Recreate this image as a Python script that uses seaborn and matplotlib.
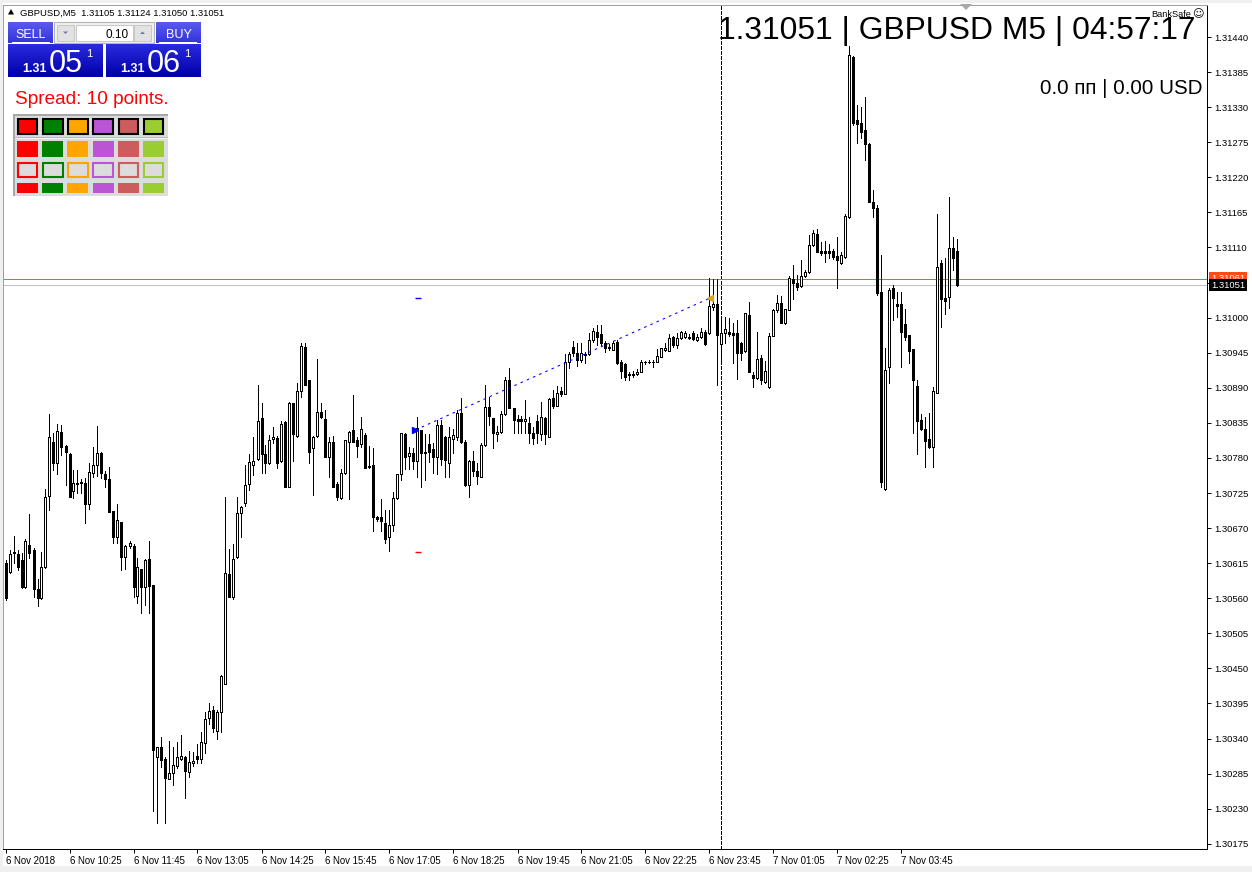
import numpy as np
import matplotlib
matplotlib.use("Agg")
import matplotlib.pyplot as plt
import matplotlib.transforms as mtransforms
from matplotlib.patches import Rectangle, Polygon
from matplotlib.colors import LinearSegmentedColormap
import seaborn as sns

# ---------------- data (GBPUSD M5) ----------------
open_ = [1.30615, 1.30601, 1.30631, 1.30629, 1.30620, 1.30578, 1.30643, 1.30636, 1.30574, 1.30560,
 1.30609, 1.30720, 1.30805, 1.30772, 1.30821, 1.30799, 1.30786, 1.30728, 1.30739, 1.30741,
 1.30741, 1.30708, 1.30756, 1.30769, 1.30787, 1.30755, 1.30747, 1.30697, 1.30656, 1.30680,
 1.30625, 1.30642, 1.30642, 1.30563, 1.30606, 1.30578, 1.30621, 1.30581, 1.30311, 1.30327,
 1.30308, 1.30277, 1.30286, 1.30297, 1.30308, 1.30311, 1.30288, 1.30302, 1.30313, 1.30308,
 1.30333, 1.30372, 1.30385, 1.30352, 1.30382, 1.30426, 1.30598, 1.30562, 1.30625, 1.30694,
 1.30709, 1.30739, 1.30769, 1.30778, 1.30843, 1.30786, 1.30772, 1.30810, 1.30811, 1.30775,
 1.30836, 1.30734, 1.30866, 1.30814, 1.30885, 1.30954, 1.30902, 1.30796, 1.30814, 1.30852,
 1.30841, 1.30781, 1.30805, 1.30739, 1.30717, 1.30756, 1.30805, 1.30824, 1.30808, 1.30802,
 1.30816, 1.30767, 1.30769, 1.30687, 1.30687, 1.30678, 1.30656, 1.30675, 1.30717, 1.30755,
 1.30818, 1.30783, 1.30787, 1.30775, 1.30824, 1.30789, 1.30802, 1.30794, 1.30781, 1.30832,
 1.30813, 1.30772, 1.30810, 1.30813, 1.30850, 1.30805, 1.30738, 1.30775, 1.30760, 1.30750,
 1.30800, 1.30860, 1.30843, 1.30818, 1.30821, 1.30849, 1.30902, 1.30858, 1.30841, 1.30841,
 1.30838, 1.30835, 1.30819, 1.30838, 1.30818, 1.30843, 1.30813, 1.30874, 1.30861, 1.30885,
 1.30880, 1.30930, 1.30954, 1.30945, 1.30934, 1.30943, 1.30943, 1.30965, 1.30977, 1.30974,
 1.30960, 1.30954, 1.30949, 1.30962, 1.30930, 1.30927, 1.30910, 1.30910, 1.30912, 1.30915,
 1.30930, 1.30930, 1.30930, 1.30930, 1.30938, 1.30949, 1.30948, 1.30970, 1.30957, 1.30968,
 1.30970, 1.30970, 1.30976, 1.30965, 1.30970, 1.30977, 1.30976, 1.31017, 1.31021, 1.30959,
 1.30976, 1.30977, 1.30976, 1.30976, 1.30960, 1.30948, 1.31004, 1.30910, 1.30905, 1.30937,
 1.30899, 1.30891, 1.30971, 1.31012, 1.31023, 1.30992, 1.31012, 1.31061, 1.31054, 1.31050,
 1.31065, 1.31072, 1.31114, 1.31131, 1.31104, 1.31104, 1.31104, 1.31104, 1.31097, 1.31086,
 1.31095, 1.31158, 1.31409, 1.31310, 1.31305, 1.31294, 1.31272, 1.31181, 1.31172, 1.31040,
 1.30731, 1.30922, 1.31046, 1.31021, 1.31021, 1.30990, 1.30973, 1.30951, 1.30893, 1.30839,
 1.30825, 1.30810, 1.30797, 1.30882, 1.31086, 1.31031, 1.31032, 1.31109, 1.31105]

high_ = [1.30620, 1.30636, 1.30658, 1.30636, 1.30631, 1.30653, 1.30692, 1.30639, 1.30590, 1.30632,
 1.30731, 1.30849, 1.30819, 1.30833, 1.30831, 1.30800, 1.30787, 1.30761, 1.30761, 1.30747,
 1.30749, 1.30772, 1.30797, 1.30830, 1.30789, 1.30760, 1.30766, 1.30697, 1.30708, 1.30680,
 1.30643, 1.30650, 1.30645, 1.30623, 1.30606, 1.30621, 1.30650, 1.30581, 1.30327, 1.30342,
 1.30311, 1.30336, 1.30327, 1.30335, 1.30346, 1.30313, 1.30320, 1.30319, 1.30331, 1.30350,
 1.30382, 1.30396, 1.30391, 1.30385, 1.30440, 1.30719, 1.30637, 1.30645, 1.30719, 1.30705,
 1.30769, 1.30786, 1.30813, 1.30894, 1.30866, 1.30800, 1.30816, 1.30829, 1.30814, 1.30838,
 1.30838, 1.30868, 1.30866, 1.30898, 1.30960, 1.30960, 1.30902, 1.30814, 1.30935, 1.30866,
 1.30855, 1.30813, 1.30814, 1.30742, 1.30763, 1.30808, 1.30822, 1.30879, 1.30813, 1.30844,
 1.30819, 1.30799, 1.30796, 1.30689, 1.30716, 1.30698, 1.30698, 1.30727, 1.30755, 1.30819,
 1.30819, 1.30797, 1.30796, 1.30844, 1.30824, 1.30818, 1.30818, 1.30803, 1.30839, 1.30839,
 1.30814, 1.30829, 1.30825, 1.30855, 1.30874, 1.30808, 1.30777, 1.30791, 1.30772, 1.30803,
 1.30894, 1.30876, 1.30843, 1.30830, 1.30854, 1.30907, 1.30921, 1.30858, 1.30847, 1.30846,
 1.30871, 1.30844, 1.30829, 1.30847, 1.30868, 1.30844, 1.30874, 1.30887, 1.30893, 1.30891,
 1.30943, 1.30946, 1.30963, 1.30960, 1.30960, 1.30946, 1.30976, 1.30984, 1.30988, 1.30988,
 1.30963, 1.30959, 1.30963, 1.30965, 1.30934, 1.30929, 1.30915, 1.30916, 1.30919, 1.30934,
 1.30932, 1.30934, 1.30934, 1.30951, 1.30952, 1.30960, 1.30974, 1.30971, 1.30976, 1.30979,
 1.30979, 1.30974, 1.30979, 1.30974, 1.30984, 1.30981, 1.31062, 1.31061, 1.31061, 1.30999,
 1.31001, 1.30999, 1.30992, 1.30996, 1.30962, 1.31007, 1.31024, 1.30914, 1.30977, 1.30941,
 1.30932, 1.30976, 1.31013, 1.31035, 1.31034, 1.31013, 1.31065, 1.31083, 1.31067, 1.31090,
 1.31075, 1.31130, 1.31137, 1.31139, 1.31119, 1.31120, 1.31115, 1.31108, 1.31126, 1.31103,
 1.31162, 1.31426, 1.31410, 1.31333, 1.31330, 1.31346, 1.31274, 1.31200, 1.31177, 1.31098,
 1.30952, 1.31046, 1.31051, 1.31040, 1.31040, 1.31013, 1.30973, 1.30951, 1.30902, 1.30849,
 1.30844, 1.30850, 1.30891, 1.31162, 1.31090, 1.31094, 1.31189, 1.31126, 1.31124]

low_ = [1.30557, 1.30600, 1.30615, 1.30604, 1.30576, 1.30576, 1.30623, 1.30562, 1.30548, 1.30559,
 1.30607, 1.30698, 1.30761, 1.30755, 1.30785, 1.30738, 1.30719, 1.30717, 1.30725, 1.30725,
 1.30678, 1.30700, 1.30750, 1.30752, 1.30749, 1.30734, 1.30695, 1.30647, 1.30647, 1.30604,
 1.30606, 1.30639, 1.30562, 1.30553, 1.30537, 1.30549, 1.30537, 1.30226, 1.30208, 1.30295,
 1.30208, 1.30277, 1.30267, 1.30294, 1.30306, 1.30247, 1.30280, 1.30297, 1.30302, 1.30302,
 1.30317, 1.30363, 1.30350, 1.30339, 1.30350, 1.30426, 1.30562, 1.30559, 1.30623, 1.30656,
 1.30705, 1.30730, 1.30753, 1.30777, 1.30756, 1.30756, 1.30770, 1.30803, 1.30764, 1.30774,
 1.30734, 1.30734, 1.30775, 1.30813, 1.30876, 1.30894, 1.30772, 1.30722, 1.30813, 1.30843,
 1.30781, 1.30750, 1.30734, 1.30714, 1.30716, 1.30755, 1.30716, 1.30805, 1.30781, 1.30797,
 1.30764, 1.30764, 1.30665, 1.30681, 1.30665, 1.30647, 1.30634, 1.30665, 1.30716, 1.30745,
 1.30763, 1.30763, 1.30763, 1.30750, 1.30734, 1.30745, 1.30774, 1.30756, 1.30755, 1.30769,
 1.30750, 1.30750, 1.30787, 1.30808, 1.30803, 1.30736, 1.30719, 1.30752, 1.30739, 1.30750,
 1.30799, 1.30831, 1.30796, 1.30807, 1.30819, 1.30847, 1.30858, 1.30819, 1.30819, 1.30819,
 1.30819, 1.30803, 1.30802, 1.30803, 1.30808, 1.30802, 1.30813, 1.30858, 1.30861, 1.30877,
 1.30880, 1.30921, 1.30940, 1.30924, 1.30930, 1.30929, 1.30941, 1.30962, 1.30957, 1.30957,
 1.30946, 1.30949, 1.30949, 1.30927, 1.30905, 1.30902, 1.30902, 1.30907, 1.30910, 1.30915,
 1.30927, 1.30929, 1.30922, 1.30930, 1.30938, 1.30948, 1.30948, 1.30954, 1.30952, 1.30966,
 1.30968, 1.30966, 1.30965, 1.30963, 1.30968, 1.30957, 1.30974, 1.31012, 1.30894, 1.30934,
 1.30960, 1.30971, 1.30929, 1.30904, 1.30934, 1.30946, 1.30914, 1.30891, 1.30904, 1.30896,
 1.30898, 1.30890, 1.30971, 1.31009, 1.30992, 1.30990, 1.31012, 1.31029, 1.31043, 1.31048,
 1.31064, 1.31070, 1.31112, 1.31103, 1.31098, 1.31087, 1.31094, 1.31092, 1.31046, 1.31084,
 1.31094, 1.31156, 1.31302, 1.31274, 1.31282, 1.31247, 1.31181, 1.31158, 1.31035, 1.30734,
 1.30730, 1.30898, 1.30996, 1.31001, 1.30922, 1.30965, 1.30929, 1.30819, 1.30786, 1.30824,
 1.30766, 1.30796, 1.30766, 1.30882, 1.30985, 1.31006, 1.31015, 1.31075, 1.31050]

close_ = [1.30560, 1.30629, 1.30632, 1.30609, 1.30578, 1.30650, 1.30631, 1.30574, 1.30560, 1.30609,
 1.30719, 1.30813, 1.30772, 1.30822, 1.30797, 1.30789, 1.30719, 1.30741, 1.30741, 1.30742,
 1.30708, 1.30758, 1.30769, 1.30787, 1.30756, 1.30747, 1.30695, 1.30656, 1.30683, 1.30625,
 1.30642, 1.30647, 1.30578, 1.30609, 1.30578, 1.30620, 1.30579, 1.30322, 1.30327, 1.30306,
 1.30278, 1.30286, 1.30299, 1.30311, 1.30313, 1.30289, 1.30303, 1.30305, 1.30308, 1.30335,
 1.30371, 1.30383, 1.30357, 1.30382, 1.30438, 1.30600, 1.30562, 1.30622, 1.30694, 1.30703,
 1.30738, 1.30774, 1.30775, 1.30838, 1.30786, 1.30772, 1.30808, 1.30813, 1.30772, 1.30833,
 1.30734, 1.30866, 1.30818, 1.30885, 1.30956, 1.30894, 1.30789, 1.30813, 1.30852, 1.30844,
 1.30781, 1.30805, 1.30734, 1.30719, 1.30756, 1.30808, 1.30821, 1.30805, 1.30799, 1.30825,
 1.30764, 1.30766, 1.30687, 1.30684, 1.30681, 1.30653, 1.30675, 1.30717, 1.30755, 1.30819,
 1.30781, 1.30787, 1.30775, 1.30827, 1.30787, 1.30787, 1.30789, 1.30781, 1.30832, 1.30778,
 1.30777, 1.30813, 1.30816, 1.30850, 1.30805, 1.30738, 1.30775, 1.30760, 1.30752, 1.30800,
 1.30860, 1.30846, 1.30819, 1.30821, 1.30849, 1.30902, 1.30858, 1.30839, 1.30838, 1.30838,
 1.30841, 1.30819, 1.30811, 1.30819, 1.30844, 1.30818, 1.30872, 1.30861, 1.30882, 1.30880,
 1.30930, 1.30943, 1.30945, 1.30934, 1.30945, 1.30941, 1.30965, 1.30979, 1.30970, 1.30960,
 1.30952, 1.30952, 1.30960, 1.30929, 1.30916, 1.30907, 1.30911, 1.30911, 1.30915, 1.30930,
 1.30931, 1.30931, 1.30931, 1.30940, 1.30952, 1.30952, 1.30968, 1.30957, 1.30968, 1.30977,
 1.30976, 1.30968, 1.30966, 1.30970, 1.30977, 1.30959, 1.31018, 1.31021, 1.30973, 1.30976,
 1.30982, 1.30974, 1.30973, 1.30945, 1.30945, 1.31007, 1.30914, 1.30905, 1.30935, 1.30902,
 1.30916, 1.30971, 1.31012, 1.31023, 1.30992, 1.31013, 1.31062, 1.31054, 1.31048, 1.31065,
 1.31072, 1.31114, 1.31133, 1.31103, 1.31101, 1.31101, 1.31101, 1.31095, 1.31090, 1.31098,
 1.31159, 1.31412, 1.31305, 1.31304, 1.31291, 1.31272, 1.31181, 1.31172, 1.31039, 1.30742,
 1.30918, 1.31043, 1.31031, 1.31018, 1.30977, 1.30970, 1.30948, 1.30902, 1.30838, 1.30825,
 1.30807, 1.30797, 1.30885, 1.31079, 1.31029, 1.31026, 1.31109, 1.31094, 1.31051]

x_tick_bars = [0, 16, 32, 48, 64, 80, 96, 112, 128, 144, 160, 176, 192, 208, 224]
x_tick_labels = ["6 Nov 2018", "6 Nov 10:25", "6 Nov 11:45", "6 Nov 13:05", "6 Nov 14:25",
                 "6 Nov 15:45", "6 Nov 17:05", "6 Nov 18:25", "6 Nov 19:45", "6 Nov 21:05",
                 "6 Nov 22:25", "6 Nov 23:45", "7 Nov 01:05", "7 Nov 02:25", "7 Nov 03:45"]
y_ticks = [1.30175, 1.30230, 1.30285, 1.30340, 1.30395, 1.30450, 1.30505, 1.30560,
           1.30615, 1.30670, 1.30725, 1.30780, 1.30835, 1.30890, 1.30945, 1.31000,
           1.31055, 1.31110, 1.31165, 1.31220, 1.31275, 1.31330, 1.31385, 1.31440]

bid_price = 1.31051
ask_price = 1.31061
trade_bars = [102.5, 176.25]
trade_prices = [1.30824, 1.31031]
tp_price = 1.31031
sl_price = 1.30633
day_separator_bar = 179

# ---------------- figure ----------------
sns.set_style("white")
plt.rcParams['font.family'] = ['Liberation Sans', 'DejaVu Sans']
plt.rcParams['axes.linewidth'] = 0.72

W, H = 1252, 872
fig = plt.figure(figsize=(W / 100, H / 100), dpi=100)
fig.patch.set_facecolor('white')


def fx(x):
    return x / W


def fy(y):
    return 1 - y / H


def frect(x0, y0, x1, y1, zorder=5, **kw):
    r = Rectangle((fx(x0), fy(y1)), (x1 - x0) / W, (y1 - y0) / H,
                  transform=fig.transFigure, zorder=zorder, **kw)
    fig.add_artist(r)
    return r


def fpoly(pts, zorder=6, **kw):
    p = Polygon([(fx(a), fy(b)) for a, b in pts], closed=True,
                transform=fig.transFigure, zorder=zorder, **kw)
    fig.add_artist(p)


def grad_box(x0, y0, x1, y1, ctop, cbot):
    a = fig.add_axes([fx(x0), fy(y1), (x1 - x0) / W, (y1 - y0) / H])
    a.set_zorder(4)
    a.axis('off')
    cmap = LinearSegmentedColormap.from_list('g', [ctop, cbot])
    a.imshow(np.linspace(0, 1, 64).reshape(-1, 1), aspect='auto', cmap=cmap,
             extent=[0, 1, 0, 1], interpolation='bilinear')
    return a


# main chart axes
ax = fig.add_axes([fx(3), fy(849), 1204 / W, 844 / H])
ax.set_facecolor('white')

o = np.array(open_)
c = np.array(close_)
hi = np.array(high_)
lo = np.array(low_)
xi = np.arange(len(c))
up = c >= o

ax.vlines(xi, lo, hi, colors='black', linewidth=0.72, antialiased=False, zorder=2)
ax.bar(xi[up], c[up] - o[up], bottom=o[up], width=0.5, color='white',
       edgecolor='black', linewidth=0.72, antialiased=False, zorder=3)
ax.bar(xi[~up], o[~up] - c[~up], bottom=c[~up], width=0.5, color='black',
       edgecolor='black', linewidth=0.72, antialiased=False, zorder=3)

# day separator
ax.axvline(day_separator_bar, color='black', linewidth=0.72, linestyle=(0, (3, 2)),
           antialiased=False, zorder=1)

# bid / ask lines
ax.axhline(ask_price, color='#E8603C', linewidth=0.72, zorder=1)
ax.axhline(bid_price, color='#C0C0C0', linewidth=0.72, zorder=1)

# trade history line
sns.lineplot(x=trade_bars, y=trade_prices, ax=ax, color='blue', linewidth=0.75,
             linestyle=(0, (2.5, 4)), zorder=4)
ax.plot([trade_bars[0]], [trade_prices[0]], marker='>', color='blue', ms=4.5, zorder=5)
ax.plot([trade_bars[1]], [trade_prices[1]], marker='<', color='#DAA520', ms=5, zorder=5)
ax.hlines(tp_price, 102.3, 104.0, colors='blue', linewidth=1.0, zorder=4)
ax.hlines(sl_price, 102.3, 104.0, colors='red', linewidth=1.0, zorder=4)

# half-pixel shift so each bar centre falls on a pixel centre (4 px per bar)
ax.set_xlim(-0.625, 300.375)
ax.set_ylim(1.301668, 1.314902)

ax.yaxis.tick_right()
ax.set_yticks(y_ticks)
ax.set_yticklabels(["" if abs(v - 1.31055) < 1e-7 else f"{v:.5f}" for v in y_ticks])
ax.tick_params(axis='y', which='major', right=True, left=False, length=3, width=0.72,
               pad=2, labelsize=6.8, colors='black', direction='out')
ax.set_xticks(x_tick_bars)
ax.set_xticklabels(x_tick_labels, ha='left')
ax.tick_params(axis='x', which='major', bottom=True, length=3, width=0.72, pad=2,
               labelsize=6.9, colors='black', direction='out')
ax.grid(False)
for s in ['left', 'top']:
    ax.spines[s].set_color('#A0A0A0')
for s in ['right', 'bottom']:
    ax.spines[s].set_color('black')

trans = mtransforms.blended_transform_factory(ax.transAxes, ax.transData)
ax.text(1.0 + 4 / 1204, ask_price, "1.31061", transform=trans, ha='left', va='center',
        fontsize=6.8, color='white', zorder=10, clip_on=False,
        bbox=dict(boxstyle='square,pad=0.2', fc='#FF4A1C', ec='none'))
ax.text(1.0 + 4 / 1204, bid_price, "1.31051", transform=trans, ha='left', va='center',
        fontsize=6.8, color='white', zorder=11, clip_on=False,
        bbox=dict(boxstyle='square,pad=0.2', fc='black', ec='none'))

# ---------------- window frame ----------------
frect(0, 0, 1252, 3.5, zorder=1, fc='#F0F0F0', ec='none')
frect(0, 0, 2.5, 872, zorder=1, fc='#F0F0F0', ec='none')
frect(0, 866, 1252, 872, zorder=1, fc='#F0F0F0', ec='none')
fpoly([(960, 4), (972, 4), (966, 10)], zorder=6, fc='#A8A8A8', ec='none')

# ---------------- header texts ----------------
fpoly([(8, 14.5), (14, 14.5), (11, 9)], fc='black', ec='none')
fig.text(fx(20), fy(15.5), "GBPUSD,M5  1.31105 1.31124 1.31050 1.31051", fontsize=6.8,
         color='black', va='baseline', ha='left', zorder=7)
fig.text(fx(1196), fy(38.5), "1.31051 | GBPUSD M5 | 04:57:17", fontsize=22.9,
         color='black', va='baseline', ha='right', zorder=7)
fig.text(fx(1203), fy(94.5), "0.0 пп | 0.00 USD", fontsize=14.8,
         color='black', va='baseline', ha='right', zorder=7)
fig.text(fx(1191), fy(17), "BankSafe", fontsize=6.6, color='black', va='baseline',
         ha='right', zorder=8)
fig.text(fx(1192), fy(17.5), "☺", fontsize=8, color='black', va='baseline',
         ha='left', zorder=8, family=['DejaVu Sans'])

# ---------------- one-click trading panel ----------------
grad_box(8, 22, 53, 43, '#5C5CF0', '#3434D8')
grad_box(156, 22, 201, 43, '#5C5CF0', '#3434D8')
grad_box(8, 44, 103, 77, '#2A2AE0', '#0000A8')
grad_box(106, 44, 201, 77, '#2A2AE0', '#0000A8')
frect(12, 42.2, 50, 43.2, zorder=6, fc='white', ec='none')
frect(159, 42.2, 197, 43.2, zorder=6, fc='white', ec='none')

frect(54, 22, 154, 43, zorder=5, fc='#F0F0F0', ec='#B4B4B4', lw=0.75)
frect(57, 25, 74, 41, zorder=6, fc='#E2E2E2', ec='#C8C8C8', lw=0.75)
frect(76, 25, 133, 41, zorder=6, fc='white', ec='#C8C8C8', lw=0.75)
frect(134, 25, 151, 41, zorder=6, fc='#E2E2E2', ec='#C8C8C8', lw=0.75)
fpoly([(63, 31.5), (68, 31.5), (65.5, 34)], zorder=7, fc='#6A78B0', ec='none')
fpoly([(140, 34), (145, 34), (142.5, 31.5)], zorder=7, fc='#6A78B0', ec='none')
fig.text(fx(129), fy(37.5), "0.10", fontsize=8.5, color='black', ha='right', va='baseline', zorder=8)
fig.text(fx(30.5), fy(37.5), "SELL", fontsize=9, color='white', ha='center', va='baseline', zorder=8)
fig.text(fx(178.5), fy(37.5), "BUY", fontsize=9, color='white', ha='center', va='baseline', zorder=8)

for dx, big in [(0, "05"), (98, "06")]:
    fig.text(fx(22 + dx), fy(72), "1.31", fontsize=9, color='white', ha='left',
             va='baseline', zorder=8, fontweight='bold')
    fig.text(fx(49 + dx), fy(72.5), big, fontsize=22, color='white', ha='left',
             va='baseline', zorder=8)
    fig.text(fx(86 + dx), fy(57), "1", fontsize=8, color='white', ha='left',
             va='baseline', zorder=8)

fig.text(fx(15), fy(103.5), "Spread: 10 points.", fontsize=13.7, color='#FF0000',
         ha='left', va='baseline', zorder=8)

# ---------------- colour palette ----------------
palette_colors = ['#FF0000', '#008000', '#FFA500', '#BA55D3', '#CD5C5C', '#9ACD32']
frect(13, 114, 168, 196, zorder=5, fc='#DCDCDC', ec='none')
frect(13, 114, 168, 116, zorder=6, fc='#A8A8A8', ec='none')
frect(13, 114, 15, 196, zorder=6, fc='#A8A8A8', ec='none')
frect(15, 137, 168, 138, zorder=6, fc='#B8B8B8', ec='none')
frect(15, 138, 168, 139, zorder=6, fc='#F4F4F4', ec='none')
for k, col in enumerate(palette_colors):
    x0 = 17 + 25.2 * k
    frect(x0 + 0.7, 118.7, x0 + 20.3, 134.3, zorder=7, fc=col, ec='black', lw=1.5)
    frect(x0, 141, x0 + 21, 157, zorder=7, fc=col, ec='none')
    frect(x0 + 0.7, 162.7, x0 + 20.3, 176.8, zorder=7, fc='#DCDCDC', ec=col, lw=1.5)
    frect(x0, 183, x0 + 21, 193, zorder=7, fc=col, ec='none')

fig.savefig("out.png", dpi=100, facecolor=fig.get_facecolor())
